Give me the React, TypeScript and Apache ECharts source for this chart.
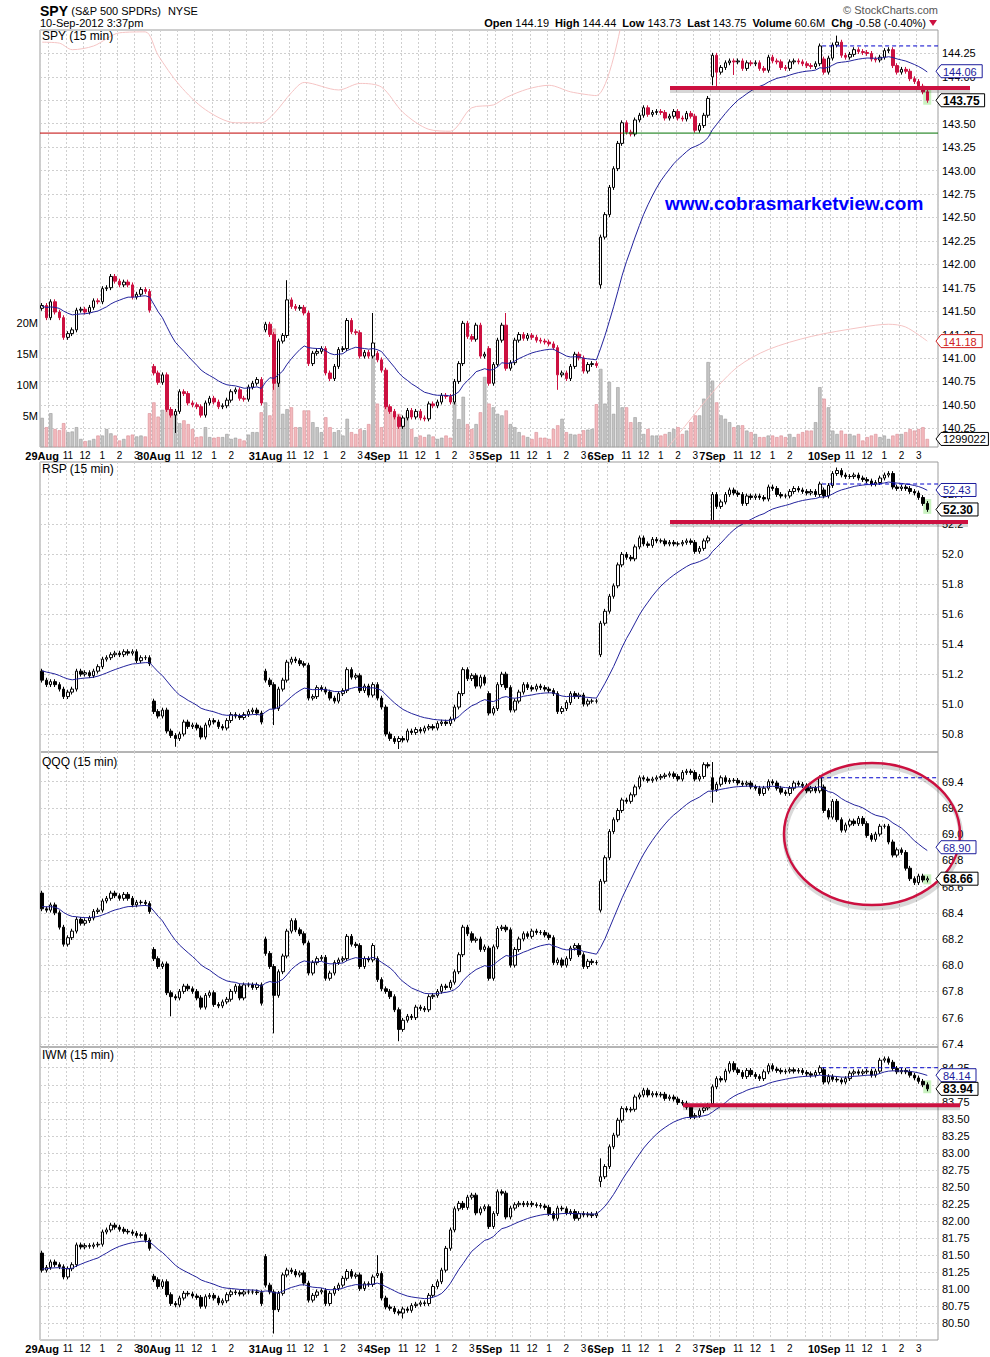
import React, { useEffect, useRef } from 'react';
import * as echarts from 'echarts';

const FONT = '"Liberation Sans", Arial, Helvetica, sans-serif';

// ---------- time axis ----------
const DAYS = ['29Aug', '30Aug', '31Aug', '4Sep', '5Sep', '6Sep', '7Sep', '10Sep'];
const BARS_PER_DAY = 26;
const HOUR_LABELS: Record<number, string> = { 6: '11', 10: '12', 14: '1', 18: '2', 22: '3' };
const GRID_SLOTS = [0, 2, 6, 10, 14, 18, 22];
const DAYS_WITHOUT_3 = [1, 6];
const EMPTY_SLOTS = 2;

// ---------- SPY ----------
const spyDayOpens = [141.53, 140.91, 141.30, 141.05, 141.10, 141.78, 144.00, 144.19];
const spyCloses = [
  [141.56, 141.43, 141.60, 141.49, 141.43, 141.22, 141.26, 141.30, 141.51, 141.52, 141.49, 141.54, 141.61, 141.60, 141.74, 141.75, 141.87, 141.82, 141.78, 141.81, 141.78, 141.65, 141.68, 141.73, 141.71, 141.51],
  [140.84, 140.74, 140.82, 140.45, 140.39, 140.43, 140.64, 140.62, 140.52, 140.50, 140.48, 140.39, 140.52, 140.57, 140.53, 140.48, 140.49, 140.55, 140.64, 140.66, 140.57, 140.56, 140.69, 140.73, 140.77, 140.52],
  [141.36, 141.25, 140.73, 141.18, 141.24, 141.62, 141.55, 141.53, 141.54, 141.48, 140.94, 141.05, 141.07, 141.10, 140.84, 140.78, 140.91, 141.09, 141.10, 141.40, 141.28, 141.27, 141.02, 141.06, 141.02, 141.16],
  [140.98, 140.87, 140.48, 140.43, 140.37, 140.27, 140.36, 140.44, 140.37, 140.43, 140.36, 140.35, 140.51, 140.49, 140.53, 140.60, 140.59, 140.53, 140.75, 140.94, 141.37, 141.23, 141.20, 141.35, 141.02, 141.04],
  [140.73, 140.93, 141.19, 141.35, 140.89, 140.95, 141.19, 141.25, 141.21, 141.24, 141.22, 141.19, 141.18, 141.17, 141.15, 141.11, 140.82, 140.84, 140.78, 140.91, 141.04, 141.00, 140.86, 140.93, 140.94, 140.92],
  [142.29, 142.53, 142.82, 143.02, 143.29, 143.51, 143.41, 143.39, 143.54, 143.59, 143.67, 143.60, 143.62, 143.63, 143.62, 143.56, 143.58, 143.63, 143.56, 143.55, 143.61, 143.58, 143.43, 143.48, 143.59, 143.77],
  [144.23, 144.05, 144.10, 144.15, 144.17, 144.16, 144.17, 144.09, 144.15, 144.14, 144.15, 144.09, 144.07, 144.21, 144.17, 144.16, 144.10, 144.09, 144.16, 144.17, 144.16, 144.14, 144.12, 144.11, 144.14, 144.33],
  [144.05, 144.20, 144.34, 144.37, 144.23, 144.21, 144.24, 144.29, 144.27, 144.26, 144.25, 144.19, 144.18, 144.21, 144.28, 144.29, 144.12, 144.05, 144.08, 144.06, 143.98, 143.95, 143.90, 143.84, 143.75],
];
// volume, millions of shares
const spyVolumes = [
  [4.7, 3.2, 5.45, 2.9, 2.7, 3.85, 2.4, 2.5, 3.2, 1.3, 0.95, 1.05, 1.3, 1.85, 1.85, 2.9, 2.2, 1.85, 1.05, 1.3, 1.85, 2.0, 1.7, 1.85, 1.7, 5.45],
  [7.2, 4.9, 6.0, 6.0, 5.9, 5.45, 3.85, 4.3, 3.7, 2.9, 1.6, 1.7, 3.2, 1.6, 1.5, 1.6, 1.6, 2.1, 1.3, 1.5, 1.3, 1.05, 2.0, 2.4, 2.4, 5.6],
  [7.2, 5.1, 19.1, 12.1, 5.35, 6.1, 6.4, 3.2, 3.2, 5.9, 5.9, 4.0, 3.2, 2.4, 4.8, 3.2, 2.4, 2.7, 1.85, 4.55, 2.4, 2.1, 2.9, 2.7, 3.7, 14.5],
  [7.0, 3.2, 6.8, 6.2, 5.45, 5.35, 4.0, 5.6, 2.9, 1.6, 1.85, 1.6, 2.0, 1.7, 1.3, 1.5, 1.85, 1.5, 7.2, 4.5, 8.1, 3.7, 2.9, 3.7, 5.6, 11.3],
  [7.0, 6.4, 5.35, 5.1, 5.9, 3.7, 3.2, 2.4, 1.85, 1.6, 1.3, 2.4, 1.5, 1.5, 1.3, 2.9, 3.5, 4.55, 2.4, 2.1, 2.0, 2.1, 2.7, 2.8, 2.9, 6.9],
  [12.6, 7.0, 10.5, 5.35, 9.65, 6.4, 6.4, 4.0, 4.8, 4.0, 2.1, 2.9, 1.85, 1.85, 1.85, 2.1, 2.4, 2.9, 3.2, 2.1, 2.65, 4.0, 5.1, 5.1, 7.8, 13.7],
  [10.7, 7.2, 5.1, 4.55, 4.0, 3.2, 3.5, 3.5, 2.65, 2.4, 2.1, 1.6, 1.6, 1.85, 1.85, 1.6, 1.85, 1.6, 2.1, 1.6, 2.1, 2.4, 2.65, 2.65, 4.0, 9.65],
  [7.8, 6.4, 2.65, 2.1, 2.65, 2.1, 2.1, 1.85, 2.1, 1.05, 1.6, 1.85, 2.1, 1.6, 1.85, 1.3, 1.85, 2.1, 2.1, 2.4, 2.9, 2.65, 2.9, 3.2, 1.3],
];
// [bar index, low, high] for bars with long shadows
const spyShadows: [number, number | null, number | null][] = [
  [31, 140.20, null], [54, 140.66, null], [55, 140.69, null], [57, null, 141.83], [77, null, 141.48],
  [108, null, 141.48], [120, 140.66, null], [130, 141.74, null], [156, 143.91, null], [157, 143.88, null],
  [161, 144.02, null], [185, null, 144.44], [206, 143.73, null],
];
const spyMaSeed = 141.55;
const spyOverlayA: [number, number][] = [
  [0, 144.37], [4, 144.36], [7, 144.29], [12, 144.33], [18, 144.47], [24, 144.48], [27, 144.23], [32, 143.91],
  [38, 143.65], [45, 143.51], [51, 143.51], [54, 143.61], [58, 143.83], [61, 143.94], [69, 143.86], [74, 143.93],
  [79, 143.89], [84, 143.62], [90, 143.44], [95, 143.42], [100, 143.67], [105, 143.70], [108, 143.78], [113, 143.87],
  [118, 143.91], [123, 143.84], [129, 143.80], [135, 144.62],
];
const spyOverlayB: [number, number][] = [
  [144, 139.95], [156, 140.63], [162, 140.91], [169, 141.09], [179, 141.23], [191, 141.33], [197, 141.36], [201, 141.33], [206, 141.18],
];
const spyTicks = [140.25, 140.5, 140.75, 141.0, 141.25, 141.5, 141.75, 142.0, 142.25, 142.5, 142.75, 143.0, 143.25, 143.5, 143.75, 144.0, 144.25];
const volTicks = [5, 10, 15, 20];
const spyRange = [140.05, 144.5];
const volRange = [0, 67.26];
const spyPrevClose = 144.33;
const spyTrendLevel = 143.40;
const spySupport = 143.88;
const spyBoxes = { ma: 144.06, last: 143.75, overlay: 141.18, volume: 1.299022 };

// ---------- RSP ----------
const rspDayOpens = [51.22, 51.02, 51.22, 51.13, 51.07, 51.33, 52.22, 52.43];
const rspCloses = [
  [51.16, 51.13, 51.15, 51.13, 51.10, 51.05, 51.08, 51.10, 51.22, 51.20, 51.21, 51.19, 51.22, 51.25, 51.30, 51.31, 51.33, 51.34, 51.33, 51.35, 51.34, 51.35, 51.29, 51.31, 51.31, 51.27],
  [50.95, 50.92, 50.96, 50.82, 50.79, 50.77, 50.80, 50.88, 50.85, 50.86, 50.84, 50.78, 50.86, 50.89, 50.88, 50.85, 50.84, 50.89, 50.93, 50.92, 50.91, 50.93, 50.95, 50.96, 50.94, 50.88],
  [51.16, 51.13, 50.97, 51.10, 51.16, 51.28, 51.30, 51.29, 51.27, 51.26, 51.04, 51.05, 51.11, 51.10, 51.08, 51.04, 51.02, 51.07, 51.09, 51.23, 51.18, 51.19, 51.09, 51.12, 51.06, 51.13],
  [51.04, 50.98, 50.80, 50.77, 50.75, 50.77, 50.76, 50.82, 50.81, 50.83, 50.82, 50.84, 50.85, 50.84, 50.87, 50.88, 50.87, 50.90, 50.98, 51.07, 51.23, 51.17, 51.19, 51.12, 51.18, 51.14],
  [50.94, 50.97, 51.13, 51.20, 51.11, 50.96, 51.02, 51.08, 51.13, 51.11, 51.10, 51.12, 51.11, 51.10, 51.09, 51.07, 50.95, 50.97, 51.01, 51.07, 51.05, 51.06, 51.00, 51.02, 51.02, 51.02],
  [51.54, 51.62, 51.72, 51.79, 51.93, 52.00, 51.98, 51.97, 52.05, 52.11, 52.07, 52.06, 52.10, 52.09, 52.09, 52.07, 52.08, 52.07, 52.07, 52.08, 52.09, 52.08, 52.02, 52.04, 52.09, 52.11],
  [52.40, 52.32, 52.35, 52.40, 52.43, 52.41, 52.40, 52.34, 52.39, 52.38, 52.39, 52.38, 52.37, 52.45, 52.44, 52.40, 52.39, 52.39, 52.42, 52.44, 52.43, 52.42, 52.41, 52.42, 52.40, 52.47],
  [52.39, 52.46, 52.54, 52.56, 52.53, 52.52, 52.52, 52.53, 52.51, 52.50, 52.49, 52.47, 52.48, 52.51, 52.53, 52.54, 52.45, 52.44, 52.45, 52.44, 52.42, 52.41, 52.38, 52.34, 52.30],
];
const rspShadows: [number, number | null, number | null][] = [
  [31, 50.715, null], [54, 50.86, null], [83, 50.70, null], [185, null, 52.58],
];
const rspMaSeed = 51.23;
const rspTicks = [50.8, 51.0, 51.2, 51.4, 51.6, 51.8, 52.0, 52.2, 52.4];
const rspRange = [50.68, 52.617];
const rspPrevClose = 52.47;
const rspSupport = 52.216;
const rspBoxes = { ma: 52.43, last: 52.30 };

// ---------- QQQ ----------
const qqqDayOpens = [68.55, 68.12, 68.20, 68.05, 68.13, 68.42, 69.43, 69.36];
const qqqCloses = [
  [68.43, 68.42, 68.46, 68.40, 68.29, 68.16, 68.21, 68.26, 68.35, 68.32, 68.34, 68.36, 68.41, 68.42, 68.49, 68.51, 68.55, 68.53, 68.51, 68.54, 68.51, 68.46, 68.48, 68.48, 68.47, 68.41],
  [68.05, 67.99, 68.01, 67.79, 67.76, 67.75, 67.80, 67.84, 67.82, 67.80, 67.75, 67.68, 67.77, 67.79, 67.70, 67.69, 67.72, 67.74, 67.80, 67.84, 67.75, 67.85, 67.85, 67.83, 67.85, 67.71],
  [68.09, 67.99, 67.77, 67.95, 68.07, 68.26, 68.34, 68.27, 68.24, 68.17, 67.94, 68.02, 68.05, 68.06, 67.90, 67.94, 68.02, 68.04, 68.05, 68.22, 68.16, 68.15, 67.99, 68.05, 68.04, 68.15],
  [67.89, 67.82, 67.80, 67.76, 67.66, 67.51, 67.58, 67.61, 67.60, 67.68, 67.67, 67.66, 67.76, 67.77, 67.80, 67.84, 67.83, 67.87, 67.95, 68.08, 68.29, 68.24, 68.19, 68.20, 68.12, 68.14],
  [67.90, 68.14, 68.28, 68.29, 68.27, 68.00, 68.12, 68.20, 68.24, 68.22, 68.26, 68.25, 68.25, 68.23, 68.21, 68.02, 68.04, 68.00, 68.05, 68.13, 68.15, 68.08, 67.99, 68.03, 68.02, 68.02],
  [68.64, 68.82, 69.02, 69.11, 69.18, 69.26, 69.25, 69.30, 69.36, 69.43, 69.42, 69.41, 69.42, 69.43, 69.44, 69.45, 69.46, 69.44, 69.42, 69.47, 69.48, 69.47, 69.42, 69.44, 69.53, 69.52],
  [69.34, 69.38, 69.43, 69.40, 69.41, 69.41, 69.39, 69.38, 69.39, 69.36, 69.35, 69.31, 69.35, 69.40, 69.39, 69.35, 69.32, 69.31, 69.35, 69.39, 69.38, 69.37, 69.33, 69.35, 69.33, 69.43],
  [69.18, 69.13, 69.25, 69.11, 69.03, 69.07, 69.10, 69.08, 69.12, 69.08, 68.99, 68.96, 69.00, 69.06, 69.06, 68.94, 68.84, 68.88, 68.86, 68.74, 68.66, 68.63, 68.68, 68.65, 68.66],
];
const qqqShadows: [number, number | null, number | null][] = [
  [30, 67.61, null], [54, 67.48, null], [83, 67.42, null], [156, 69.24, 69.55],
];
const qqqMaSeed = 68.45;
const qqqTicks = [67.4, 67.6, 67.8, 68.0, 68.2, 68.4, 68.6, 68.8, 69.0, 69.2, 69.4];
const qqqRange = [67.376, 69.6265];
const qqqPrevClose = 69.43;
const qqqBoxes = { ma: 68.90, last: 68.66 };

// ---------- IWM ----------
const iwmDayOpens = [81.53, 81.19, 81.48, 81.20, 82.21, 82.58, 83.72, 84.22];
const iwmCloses = [
  [81.28, 81.32, 81.40, 81.36, 81.33, 81.18, 81.30, 81.36, 81.65, 81.62, 81.64, 81.63, 81.65, 81.66, 81.84, 81.87, 81.94, 81.91, 81.88, 81.85, 81.84, 81.82, 81.79, 81.80, 81.72, 81.60],
  [81.14, 81.04, 81.11, 80.92, 80.79, 80.77, 80.87, 80.94, 80.93, 80.90, 80.88, 80.75, 80.89, 80.91, 80.87, 80.80, 80.83, 80.92, 80.96, 80.95, 80.93, 80.96, 80.96, 80.96, 80.95, 80.79],
  [81.06, 80.96, 80.70, 80.94, 81.21, 81.28, 81.26, 81.21, 81.24, 81.09, 80.84, 80.91, 80.96, 80.98, 80.79, 80.94, 81.01, 81.06, 81.16, 81.26, 81.19, 81.21, 81.01, 81.08, 81.07, 81.18],
  [81.23, 80.87, 80.74, 80.72, 80.67, 80.65, 80.71, 80.69, 80.76, 80.78, 80.80, 80.79, 80.91, 81.04, 81.11, 81.28, 81.60, 81.87, 82.18, 82.26, 82.20, 82.35, 82.38, 82.12, 82.18, 82.21],
  [81.92, 82.11, 82.43, 82.41, 82.06, 82.19, 82.24, 82.26, 82.24, 82.26, 82.24, 82.23, 82.22, 82.20, 82.11, 82.04, 82.19, 82.18, 82.12, 82.14, 82.04, 82.11, 82.09, 82.10, 82.08, 82.11],
  [82.65, 82.80, 83.09, 83.26, 83.48, 83.65, 83.63, 83.64, 83.82, 83.85, 83.92, 83.85, 83.87, 83.85, 83.86, 83.80, 83.82, 83.79, 83.74, 83.73, 83.67, 83.53, 83.55, 83.62, 83.66, 83.70],
  [83.97, 84.09, 84.07, 84.20, 84.31, 84.22, 84.18, 84.12, 84.21, 84.15, 84.12, 84.09, 84.19, 84.28, 84.23, 84.21, 84.19, 84.20, 84.22, 84.20, 84.21, 84.18, 84.16, 84.14, 84.18, 84.25],
  [84.04, 84.12, 84.08, 84.07, 84.04, 84.09, 84.17, 84.19, 84.17, 84.19, 84.20, 84.14, 84.20, 84.36, 84.38, 84.33, 84.24, 84.19, 84.21, 84.19, 84.14, 84.10, 84.05, 84.00, 83.94],
];
const iwmShadows: [number, number | null, number | null][] = [
  [54, 80.35, null], [78, null, 81.50], [84, 80.57, null], [130, 82.50, 82.92], [160, null, 84.33], [196, null, 84.41],
];
const iwmMaSeed = 81.30;
const iwmTicks = [80.5, 80.75, 81.0, 81.25, 81.5, 81.75, 82.0, 82.25, 82.5, 82.75, 83.0, 83.25, 83.5, 83.75, 84.0, 84.25];
const iwmRange = [80.255, 84.554];
const iwmPrevClose = 84.25;
const iwmSupport = 83.70;
const iwmBoxes = { ma: 84.14, last: 83.94 };

// ---------- helpers ----------
const flatten = (a: number[][]) => a.reduce((acc: number[], d) => acc.concat(d), []);
const WICK = { spy: 0.026, rsp: 0.016, qqq: 0.018, iwm: 0.035 };

function buildCandles(opens: number[], closes: number[][], wick: number, shadows: [number, number | null, number | null][]) {
  const out: number[][] = [];
  let prev = 0;
  closes.forEach((day, d) => {
    day.forEach((c, k) => {
      const o = k === 0 ? opens[d] : prev;
      out.push([o, c, Math.min(o, c) - wick, Math.max(o, c) + wick]);
      prev = c;
    });
  });
  shadows.forEach(([i, lo, hi]) => {
    if (lo != null) out[i][2] = Math.min(out[i][2], lo);
    if (hi != null) out[i][3] = Math.max(out[i][3], hi);
  });
  return out;
}

function ema(values: number[], seed: number, period: number) {
  const k = 2 / (period + 1);
  let e = seed;
  return values.map((v) => (e = e + (v - e) * k));
}

const N_BARS = flatten(spyCloses).length;
const N_SLOTS = N_BARS + EMPTY_SLOTS;
const CATS = Array.from({ length: N_SLOTS }, (_, i) => String(i));

function slotLabel(i: number): string {
  if (i >= N_BARS) return '';
  const d = Math.floor(i / BARS_PER_DAY);
  const k = i % BARS_PER_DAY;
  if (k === 0) return DAYS[d];
  if (k === 22 && DAYS_WITHOUT_3.includes(d)) return '';
  return HOUR_LABELS[k] || '';
}
const isGridSlot = (i: number) => i < N_BARS && GRID_SLOTS.includes(i % BARS_PER_DAY);

const GRIDS = [
  { top: 30, height: 417 },
  { top: 462, height: 290 },
  { top: 752, height: 295 },
  { top: 1047, height: 293 },
];
const GRID_LEFT = 40;
const GRID_WIDTH = 898;
const GRID_RIGHT_X = GRID_LEFT + GRID_WIDTH;

const RED = '#cc1040';
const GRID_LINE = '#cfcfcf';

function xAxis(gi: number, showLabels: boolean) {
  return {
    type: 'category',
    gridIndex: gi,
    data: CATS,
    boundaryGap: true,
    axisLine: { show: false },
    axisTick: { show: false },
    axisLabel: {
      show: showLabels,
      interval: (i: number) => slotLabel(i) !== '',
      margin: 3,
      formatter: (_v: string, i: number) => {
        const s = slotLabel(i);
        return i % BARS_PER_DAY === 0 ? `{d|${s}}` : s;
      },
      color: '#000',
      fontSize: 10,
      fontFamily: FONT,
      rich: { d: { fontWeight: 'bold', fontSize: 11, fontFamily: FONT, color: '#000' } },
    },
    splitLine: {
      show: true,
      interval: (i: number) => isGridSlot(i),
      lineStyle: { color: GRID_LINE, type: [2, 2], width: 1 },
    },
  };
}

function priceAxis(gi: number, range: number[], ticks: number[], digits: number) {
  return {
    type: 'value',
    gridIndex: gi,
    position: 'right',
    min: range[0],
    max: range[1],
    scale: true,
    axisLine: { show: false },
    axisTick: { show: false },
    splitLine: { show: false },
    axisLabel: {
      customValues: ticks,
      formatter: (v: number) => v.toFixed(digits),
      color: '#000',
      fontSize: 11,
      fontFamily: FONT,
      margin: 4,
    },
  };
}

function gridLines(ticks: number[]) {
  return {
    silent: true,
    symbol: ['none', 'none'],
    z: 1,
    label: { show: false },
    emphasis: { disabled: true },
    lineStyle: { color: GRID_LINE, type: [2, 2], width: 1 },
    data: ticks.map((v) => ({ yAxis: v })),
  };
}

function candleSeries(xi: number, yi: number, data: number[][], downColor: string, ticks: number[]) {
  return {
    type: 'candlestick',
    xAxisIndex: xi,
    yAxisIndex: yi,
    data,
    barWidth: 3,
    z: 3,
    silent: true,
    itemStyle: { color: '#ffffff', color0: downColor, borderColor: '#000000', borderColor0: downColor, borderWidth: 1 },
    markLine: gridLines(ticks),
  };
}

function maSeries(xi: number, yi: number, data: number[]) {
  return {
    type: 'line',
    xAxisIndex: xi,
    yAxisIndex: yi,
    data: data.map((v) => +v.toFixed(3)),
    symbol: 'none',
    silent: true,
    z: 4,
    lineStyle: { color: '#23239c', width: 1 },
  };
}

const CANDLES = {
  spy: buildCandles(spyDayOpens, spyCloses, WICK.spy, spyShadows),
  rsp: buildCandles(rspDayOpens, rspCloses, WICK.rsp, rspShadows),
  qqq: buildCandles(qqqDayOpens, qqqCloses, WICK.qqq, qqqShadows),
  iwm: buildCandles(iwmDayOpens, iwmCloses, WICK.iwm, iwmShadows),
};

function buildOption() {
  const spyFlat = flatten(spyCloses);
  const volFlat = flatten(spyVolumes);
  const volData = volFlat.map((v, i) => {
    const down = CANDLES.spy[i][1] < (i > 0 ? spyFlat[i - 1] : CANDLES.spy[i][0]);
    return {
      value: v,
      itemStyle: down
        ? { color: '#f3b9bd', borderColor: '#d98d95', borderWidth: 0.6 }
        : { color: '#c4c4c4', borderColor: '#9a9a9a', borderWidth: 0.6 },
    };
  });

  const overlayStyle = { color: '#f5c4c4', width: 1 };

  return {
    animation: false,
    backgroundColor: '#ffffff',
    textStyle: { fontFamily: FONT },
    grid: GRIDS.map((g) => ({
      left: GRID_LEFT,
      width: GRID_WIDTH,
      top: g.top,
      height: g.height,
      show: true,
      borderColor: '#9c9c9c',
      borderWidth: 1,
      backgroundColor: 'rgba(0,0,0,0)',
    })),
    xAxis: [xAxis(0, true), xAxis(1, false), xAxis(2, false), xAxis(3, true)],
    yAxis: [
      priceAxis(0, spyRange, spyTicks, 2),
      {
        type: 'value',
        gridIndex: 0,
        position: 'left',
        min: volRange[0],
        max: volRange[1],
        axisLine: { show: false },
        axisTick: { show: false },
        splitLine: { show: false },
        axisLabel: {
          customValues: volTicks,
          formatter: (v: number) => `${v}M`,
          color: '#000',
          fontSize: 11,
          fontFamily: FONT,
          margin: 2,
        },
      },
      priceAxis(1, rspRange, rspTicks, 1),
      priceAxis(2, qqqRange, qqqTicks, 1),
      priceAxis(3, iwmRange, iwmTicks, 2),
    ],
    series: [
      { type: 'bar', xAxisIndex: 0, yAxisIndex: 1, data: volData, barWidth: 3.4, z: 1, silent: true },
      { type: 'line', xAxisIndex: 0, yAxisIndex: 0, data: spyOverlayA, symbol: 'none', smooth: 0.3, z: 2, silent: true, lineStyle: overlayStyle, clip: true },
      { type: 'line', xAxisIndex: 0, yAxisIndex: 0, data: spyOverlayB, symbol: 'none', smooth: 0.3, z: 2, silent: true, lineStyle: overlayStyle, clip: true },
      candleSeries(0, 0, CANDLES.spy, RED, spyTicks),
      maSeries(0, 0, ema(spyFlat, spyMaSeed, 20)),
      candleSeries(1, 2, CANDLES.rsp, '#000000', rspTicks),
      maSeries(1, 2, ema(flatten(rspCloses), rspMaSeed, 20)),
      candleSeries(2, 3, CANDLES.qqq, '#000000', qqqTicks),
      maSeries(2, 3, ema(flatten(qqqCloses), qqqMaSeed, 20)),
      candleSeries(3, 4, CANDLES.iwm, '#000000', iwmTicks),
      maSeries(3, 4, ema(flatten(iwmCloses), iwmMaSeed, 20)),
    ],
  };
}

function txt(x: number, y: number, text: string, font: string, fill: string, align = 'left', extra: any = {}) {
  return {
    type: 'text',
    x,
    y,
    z: 120,
    silent: true,
    style: { text, font, fill, align, verticalAlign: 'middle', ...extra },
  };
}

function box(x0: number, y: number, text: string, color: string, bold: boolean) {
  const w = text.length * (bold ? 6.6 : 6.2) + 3;
  return [
    {
      type: 'polygon',
      z: 110,
      silent: true,
      shape: { points: [[x0, y], [x0 + 5, y - 6.5], [x0 + 6 + w, y - 6.5], [x0 + 6 + w, y + 6.5], [x0 + 5, y + 6.5]] },
      style: { fill: '#ffffff', stroke: color, lineWidth: 1 },
    },
    txt(x0 + 7, y + 0.5, text, `${bold ? 'bold 12px' : '11px'} ${FONT}`, color),
  ];
}

function hline(x1: number, x2: number, y: number, stroke: string, lineWidth: number, extra: any = {}) {
  return {
    type: 'line',
    z: 100,
    silent: true,
    shape: { x1, y1: y, x2, y2: y },
    style: { stroke, lineWidth, ...extra },
  };
}

function thickLine(x1: number, x2: number, y: number) {
  return [
    { type: 'rect', z: 99, silent: true, shape: { x: x1, y: y - 1, width: x2 - x1, height: 6 }, style: { fill: 'rgba(0,0,0,0.16)' } },
    { type: 'rect', z: 100, silent: true, shape: { x: x1, y: y - 2, width: x2 - x1, height: 4 }, style: { fill: RED } },
  ];
}

function buildGraphics(chart: any) {
  const px = (xi: number, idx: number) => chart.convertToPixel({ xAxisIndex: xi }, String(idx));
  const py = (yi: number, v: number) => chart.convertToPixel({ yAxisIndex: yi }, v);
  const lastDayStart = N_BARS - spyCloses[spyCloses.length - 1].length;
  const lastBar = N_BARS - 1;
  const dash = { lineDash: [4, 3] };
  const BLUE = '#1c1c9c';
  const bx = GRID_RIGHT_X - 2;
  const els: any[] = [];

  // header
  els.push({
    type: 'text', x: 40, y: 11, z: 120, silent: true,
    style: {
      text: '{t|SPY} {s|(S&P 500 SPDRs)}  {s|NYSE}',
      verticalAlign: 'middle',
      rich: {
        t: { fontSize: 14, fontWeight: 'bold', fontFamily: FONT, fill: '#000' },
        s: { fontSize: 11, fontFamily: FONT, fill: '#000' },
      },
    },
  });
  els.push(txt(40, 23, '10-Sep-2012 3:37pm', `11px ${FONT}`, '#000'));
  els.push(txt(938, 10, '© StockCharts.com', `11px ${FONT}`, '#555', 'right'));
  els.push({
    type: 'text', x: 926, y: 23, z: 120, silent: true,
    style: {
      text: '{b|Open} 144.19  {b|High} 144.44  {b|Low} 143.73  {b|Last} 143.75  {b|Volume} 60.6M  {b|Chg} -0.58 (-0.40%)',
      font: `11px ${FONT}`,
      fill: '#000',
      align: 'right',
      verticalAlign: 'middle',
      rich: { b: { fontSize: 11, fontWeight: 'bold', fontFamily: FONT, fill: '#000' } },
    },
  });
  els.push({
    type: 'polygon', z: 120, silent: true,
    shape: { points: [[929, 20], [937, 20], [933, 26]] },
    style: { fill: RED },
  });

  // panel titles
  els.push(txt(42, 36, 'SPY (15 min)', `12px ${FONT}`, '#000'));
  els.push(txt(42, 469, 'RSP (15 min)', `12px ${FONT}`, '#000'));
  els.push(txt(42, 762, 'QQQ (15 min)', `12px ${FONT}`, '#000'));
  els.push(txt(42, 1055, 'IWM (15 min)', `12px ${FONT}`, '#000'));

  // watermark
  els.push(txt(665, 203, 'www.cobrasmarketview.com', `bold 19px ${FONT}`, '#0000ff'));

  // last-bar highlights
  const highlight = (xi: number, yi: number, c: number[]) => {
    const top = py(yi, c[3]) - 2;
    const bottom = py(yi, c[2]) + 2;
    return {
      type: 'rect', z: 0, silent: true,
      shape: { x: px(xi, lastBar) - 4, y: top, width: 8, height: Math.max(8, bottom - top) },
      style: { fill: '#c9f2c0' },
    };
  };
  els.push(highlight(0, 0, CANDLES.spy[lastBar]));
  els.push(highlight(1, 2, CANDLES.rsp[lastBar]));
  els.push(highlight(2, 3, CANDLES.qqq[lastBar]));
  els.push(highlight(3, 4, CANDLES.iwm[lastBar]));

  // SPY annotations
  const splitX = 623;
  const yTrend = py(0, spyTrendLevel);
  els.push(hline(GRID_LEFT, splitX, yTrend, '#c00000', 1));
  els.push(hline(splitX, GRID_RIGHT_X, yTrend, '#007000', 1));
  els.push(hline(px(0, lastDayStart) - 2, GRID_RIGHT_X, py(0, spyPrevClose), '#0000cc', 1, dash));
  els.push(...thickLine(670, 970, py(0, spySupport)));

  // RSP annotations
  els.push(hline(px(1, lastDayStart) - 2, GRID_RIGHT_X, py(2, rspPrevClose), '#0000cc', 1, dash));
  els.push(...thickLine(670, 968, py(2, rspSupport)));

  // QQQ annotations
  els.push(hline(px(2, lastDayStart) - 4, GRID_RIGHT_X, py(3, qqqPrevClose), '#0000cc', 1, dash));
  els.push({
    type: 'ellipse', z: 99, silent: true,
    shape: { cx: 873, cy: 837, rx: 88, ry: 71 },
    style: { fill: 'none', stroke: 'rgba(0,0,0,0.15)', lineWidth: 5 },
  });
  els.push({
    type: 'ellipse', z: 100, silent: true,
    shape: { cx: 872, cy: 834, rx: 88, ry: 71 },
    style: { fill: 'none', stroke: RED, lineWidth: 2.5 },
  });

  // IWM annotations
  els.push(hline(px(3, lastDayStart) - 2, GRID_RIGHT_X, py(4, iwmPrevClose), '#0000cc', 1, dash));
  els.push(...thickLine(683, 960, py(4, iwmSupport)));

  // value boxes
  els.push(...box(bx, py(0, spyBoxes.ma), spyBoxes.ma.toFixed(2), BLUE, false));
  els.push(...box(bx, py(0, spyBoxes.last), spyBoxes.last.toFixed(2), '#000', true));
  els.push(...box(bx, py(0, spyBoxes.overlay), spyBoxes.overlay.toFixed(2), '#d02020', false));
  els.push(...box(bx, py(1, spyBoxes.volume), String(Math.round(spyBoxes.volume * 1e6)), '#000', false));
  els.push(...box(bx, py(2, rspBoxes.ma), rspBoxes.ma.toFixed(2), BLUE, false));
  els.push(...box(bx, py(2, rspBoxes.last), rspBoxes.last.toFixed(2), '#000', true));
  els.push(...box(bx, py(3, qqqBoxes.ma), qqqBoxes.ma.toFixed(2), BLUE, false));
  els.push(...box(bx, py(3, qqqBoxes.last), qqqBoxes.last.toFixed(2), '#000', true));
  els.push(...box(bx, py(4, iwmBoxes.ma), iwmBoxes.ma.toFixed(2), BLUE, false));
  els.push(...box(bx, py(4, iwmBoxes.last), iwmBoxes.last.toFixed(2), '#000', true));

  return els;
}

export default function App() {
  const ref = useRef<HTMLDivElement>(null);
  useEffect(() => {
    document.body.style.margin = '0';
    const chart = echarts.init(ref.current as HTMLDivElement, null, { renderer: 'svg' });
    chart.setOption(buildOption() as any);
    chart.setOption({ graphic: { elements: buildGraphics(chart) } } as any);
    return () => chart.dispose();
  }, []);
  return (
    <div
      ref={ref}
      style={{ position: 'absolute', left: 0, top: 0, width: 990, height: 1357, background: '#ffffff' }}
    />
  );
}
